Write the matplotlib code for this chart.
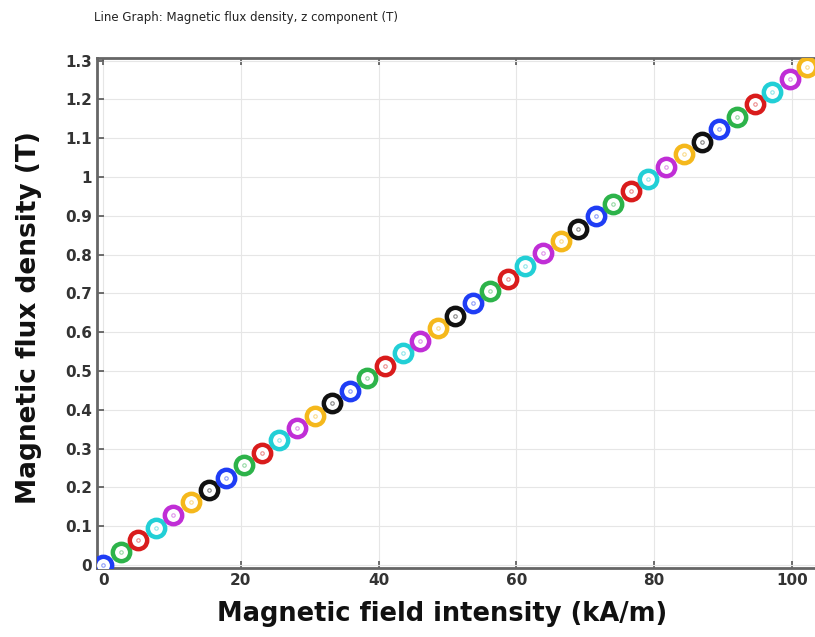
import matplotlib.pyplot as plt

# magnetic field intensity H (kA/m) and flux density Bz (T)
h_field = [0.0, 2.6, 5.1, 7.7, 10.2, 12.8, 15.3, 17.9, 20.4, 23.0,
           25.6, 28.1, 30.7, 33.2, 35.8, 38.3, 40.9, 43.5, 46.0, 48.6,
           51.1, 53.7, 56.2, 58.8, 61.3, 63.9, 66.5, 69.0, 71.6, 74.1,
           76.7, 79.2, 81.8, 84.3, 86.9, 89.5, 92.0, 94.6, 97.1, 99.7,
           102.2]
b_flux = [0.000, 0.032, 0.064, 0.096, 0.128, 0.161, 0.193, 0.225, 0.257, 0.289,
          0.321, 0.353, 0.385, 0.417, 0.449, 0.482, 0.514, 0.546, 0.578, 0.610,
          0.642, 0.674, 0.706, 0.738, 0.770, 0.803, 0.835, 0.867, 0.899, 0.931,
          0.963, 0.995, 1.027, 1.059, 1.091, 1.124, 1.156, 1.188, 1.220, 1.252,
          1.284]

marker_colors = ['#1f3df5', '#2db34a', '#d91c1c', '#22cfd6', '#c02ed6', '#f5b81c', '#111111']

x_ticks = [0, 20, 40, 60, 80, 100]
y_ticks = [0, 0.1, 0.2, 0.3, 0.4, 0.5, 0.6, 0.7, 0.8, 0.9, 1.0, 1.1, 1.2, 1.3]
y_tick_labels = ['0', '0.1', '0.2', '0.3', '0.4', '0.5', '0.6', '0.7', '0.8', '0.9',
                 '1', '1.1', '1.2', '1.3']

fig = plt.figure(figsize=(8.15, 6.37), dpi=100)
ax = fig.add_axes([97 / 815, 1 - 568 / 637, 725 / 815, 510 / 637])

for i, (h, b) in enumerate(zip(h_field, b_flux)):
    c = marker_colors[i % len(marker_colors)]
    ax.plot(h, b, 'o', ms=12.5, mfc='white', mec=c, mew=3.2, zorder=3)
    ax.plot(h, b, 'o', ms=2.5, mfc='none', mec=c, mew=0.8, alpha=0.5, zorder=4)

ax.set_xlim(-0.9, 104.4)
ax.set_ylim(-0.008, 1.307)
ax.set_xticks(x_ticks)
ax.set_yticks(y_ticks)
ax.set_yticklabels(y_tick_labels)
ax.grid(True, color='#e6e6e6', linewidth=0.8)
ax.set_axisbelow(True)
ax.tick_params(direction='in', length=5, width=1.2, color='#555555',
               labelsize=11, labelcolor='#333333', top=True, right=False)
for lbl in ax.get_xticklabels() + ax.get_yticklabels():
    lbl.set_fontweight('bold')
for side in ['left', 'bottom', 'top']:
    ax.spines[side].set_color('#666666')
    ax.spines[side].set_linewidth(2)
ax.spines['right'].set_visible(False)

fig.text(442 / 815, 1 - 614 / 637, 'Magnetic field intensity (kA/m)',
         fontsize=18.5, fontweight='bold', ha='center', va='center', color='#111111')
fig.text(29 / 815, 1 - 318 / 637, 'Magnetic flux density (T)', rotation=90,
         fontsize=19, fontweight='bold', ha='center', va='center', color='#111111')

fig.text(0.302, 0.972, 'Line Graph: Magnetic flux density, z component (T)',
         fontsize=8.5, ha='center', va='center', color='#222222')

fig.savefig('out.png', dpi=100)
